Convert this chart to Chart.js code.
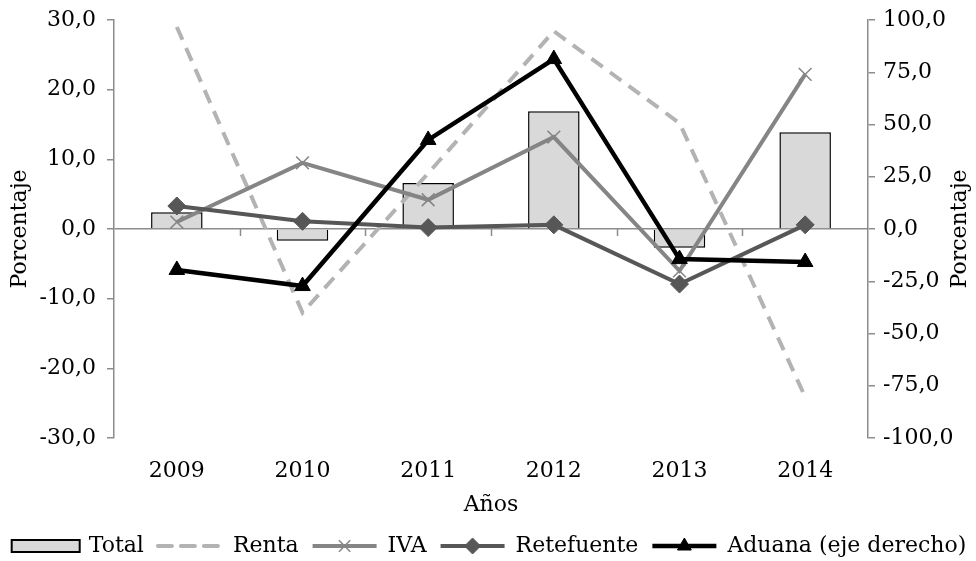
<!DOCTYPE html>
<html>
<head>
<meta charset="utf-8">
<script src="https://cdn.jsdelivr.net/npm/chart.js@4.4.1/dist/chart.umd.min.js"></script>
<style>
  html, body { margin: 0; padding: 0; background: #fff; }
  #wrap { width: 976px; height: 561px; position: relative; }
</style>
</head>
<body>
<div id="wrap"><canvas id="chart"></canvas></div>
<script>
// Data
const years = ['2009', '2010', '2011', '2012', '2013', '2014'];
const total = [2.4, -1.7, 6.6, 16.9, -2.7, 13.9];
const renta = [29.0, -12.0, 8.0, 28.4, 15.2, -24.1];
const iva = [1.0, 9.5, 4.2, 13.2, -6.0, 22.2];
const retefuente = [3.3, 1.1, 0.2, 0.6, -7.9, 0.6];
const aduana = [-19.6, -27.3, 42.6, 81.3, -14.4, -15.8]; // right axis

const FONT = 'DejaVu Serif';
const FONT_SIZE = 22;
const AXIS_GRAY = '#8c8c8c';
const yTitle = 'Porcentaje';

const fmt = v => Number(v).toFixed(1).replace('.', ',');

// zero line tick marks between categories (Excel style)
const zeroTicks = {
    id: 'zeroTicks',
    beforeDatasetsDraw(chart) {
        const { ctx, scales } = chart;
        const x = scales.x, y = scales.y;
        const y0 = y.getPixelForValue(0);
        const half = (x.getPixelForValue(1) - x.getPixelForValue(0)) / 2;
        ctx.save();
        ctx.strokeStyle = AXIS_GRAY;
        ctx.lineWidth = 1.5;
        for (let i = 1; i < years.length; i++) {
            const px = Math.round(x.getPixelForValue(i) - half) + 0.5;
            ctx.beginPath();
            ctx.moveTo(px, y0);
            ctx.lineTo(px, y0 + 7);
            ctx.stroke();
        }
        ctx.restore();
    }
};

// both axis titles read bottom-to-top
const axisTitles = {
    id: 'axisTitles',
    afterDraw(chart) {
        const { ctx, chartArea } = chart;
        const cy = (chartArea.top + chartArea.bottom) / 2;
        ctx.save();
        ctx.font = FONT_SIZE + 'px "' + FONT + '"';
        ctx.fillStyle = '#000';
        ctx.textAlign = 'center';
        ctx.textBaseline = 'middle';
        [20, 960].forEach(cx => {
            ctx.save();
            ctx.translate(cx, cy);
            ctx.rotate(-Math.PI / 2);
            ctx.fillText(yTitle, 0, 0);
            ctx.restore();
        });
        ctx.restore();
    }
};

// legend drawn along the bottom
const bottomLegend = {
    id: 'bottomLegend',
    afterDraw(chart) {
        const ctx = chart.ctx;
        const cy = 546;
        const sampleW = 72;
        ctx.save();
        ctx.font = FONT_SIZE + 'px "' + FONT + '"';
        ctx.textBaseline = 'middle';
        const items = chart.data.datasets.map(ds => ({ ds, w: ctx.measureText(ds.label).width }));
        const gapText = 7, gapItem = 10;
        let totalW = 0;
        items.forEach(it => { totalW += sampleW + gapText + it.w + gapItem; });
        totalW -= gapItem;
        let x = Math.max(2, (976 - totalW) / 2);
        items.forEach(it => {
            const ds = it.ds;
            if (ds.type === 'bar') {
                ctx.fillStyle = ds.backgroundColor;
                ctx.strokeStyle = '#000';
                ctx.lineWidth = 2;
                ctx.fillRect(x + 2, cy - 6, sampleW - 4, 12);
                ctx.strokeRect(x + 2, cy - 6, sampleW - 4, 12);
            } else {
                ctx.strokeStyle = ds.borderColor;
                ctx.lineWidth = ds.borderWidth;
                ctx.setLineDash(ds.borderDash || []);
                ctx.lineCap = ds.borderDash ? 'round' : 'butt';
                ctx.beginPath();
                ctx.moveTo(x + 4, cy);
                ctx.lineTo(x + sampleW - 4, cy);
                ctx.stroke();
                ctx.setLineDash([]);
                ctx.lineCap = 'butt';
                if (ds.pointStyle && ds.pointRadius > 0) {
                    ctx.fillStyle = ds.pointBackgroundColor;
                    ctx.strokeStyle = ds.pointBorderColor;
                    ctx.lineWidth = ds.pointBorderWidth;
                    Chart.helpers.drawPoint(ctx, {
                        pointStyle: ds.pointStyle,
                        radius: ds.pointRadius - 1,
                        borderWidth: ds.pointBorderWidth,
                        rotation: 0
                    }, x + sampleW / 2, cy);
                }
            }
            ctx.fillStyle = '#000';
            ctx.textAlign = 'left';
            ctx.fillText(ds.label, x + sampleW + gapText, cy);
            x += sampleW + gapText + it.w + gapItem;
        });
        ctx.restore();
    }
};

Chart.defaults.font.family = FONT;
Chart.defaults.font.size = FONT_SIZE;
Chart.defaults.color = '#000';

const ctx = document.getElementById('chart').getContext('2d');
new Chart(ctx, {
    data: {
        labels: years,
        datasets: [
            {
                type: 'bar',
                label: 'Total',
                data: total,
                backgroundColor: '#d9d9d9',
                borderColor: '#000',
                borderWidth: 1.5,
                categoryPercentage: 1,
                barPercentage: 0.41,
                yAxisID: 'y',
                order: 10
            },
            {
                type: 'line',
                label: 'Renta',
                data: renta,
                borderColor: '#b3b3b3',
                borderWidth: 4,
                borderDash: [14, 9],
                pointRadius: 0,
                tension: 0,
                yAxisID: 'y',
                order: 5
            },
            {
                type: 'line',
                label: 'IVA',
                data: iva,
                borderColor: '#858585',
                borderWidth: 4,
                pointStyle: 'crossRot',
                pointRadius: 9,
                pointBorderWidth: 1.5,
                pointBorderColor: '#858585',
                pointBackgroundColor: '#858585',
                yAxisID: 'y',
                order: 4
            },
            {
                type: 'line',
                label: 'Retefuente',
                data: retefuente,
                borderColor: '#575757',
                borderWidth: 4,
                pointStyle: 'rectRot',
                pointRadius: 9,
                pointBorderWidth: 1,
                pointBorderColor: '#575757',
                pointBackgroundColor: '#575757',
                yAxisID: 'y',
                order: 3
            },
            {
                type: 'line',
                label: 'Aduana (eje derecho)',
                data: aduana,
                borderColor: '#000',
                borderWidth: 4.5,
                pointStyle: 'triangle',
                pointRadius: 9,
                pointBorderWidth: 1,
                pointBorderColor: '#000',
                pointBackgroundColor: '#000',
                yAxisID: 'y1',
                order: 2
            }
        ]
    },
    options: {
        responsive: true,
        maintainAspectRatio: false,
        animation: false,
        layout: { padding: { top: 20, bottom: 43, left: 0, right: 0 } },
        plugins: {
            legend: { display: false },
            tooltip: { enabled: false }
        },
        scales: {
            x: {
                type: 'category',
                offset: true,
                grid: { display: false },
                border: { display: false },
                ticks: { padding: 12 },
                title: { display: true, text: 'Años', padding: { top: 4, bottom: 0 } },
                afterFit(scale) { scale.height = 80; }
            },
            y: {
                position: 'left',
                min: -30,
                max: 30,
                ticks: { stepSize: 10, padding: 11, font: { lineHeight: 0.8 }, callback: v => fmt(v) },
                grid: {
                    color: c => (c.tick && c.tick.value === 0 ? AXIS_GRAY : 'rgba(0,0,0,0)'),
                    lineWidth: 1.5,
                    tickColor: AXIS_GRAY,
                    tickLength: 7,
                    drawTicks: true
                },
                border: { display: true, color: AXIS_GRAY, width: 1.5 },
                afterFit(scale) { scale.width = 114; }
            },
            y1: {
                position: 'right',
                min: -100,
                max: 100,
                ticks: { stepSize: 25, padding: 8, font: { lineHeight: 0.8 }, callback: v => fmt(v) },
                grid: {
                    drawOnChartArea: false,
                    tickColor: AXIS_GRAY,
                    tickLength: 7,
                    lineWidth: 1.5
                },
                border: { display: true, color: AXIS_GRAY, width: 1.5 },
                afterFit(scale) { scale.width = 108; }
            }
        }
    },
    plugins: [zeroTicks, axisTitles, bottomLegend]
});
</script>
</body>
</html>
